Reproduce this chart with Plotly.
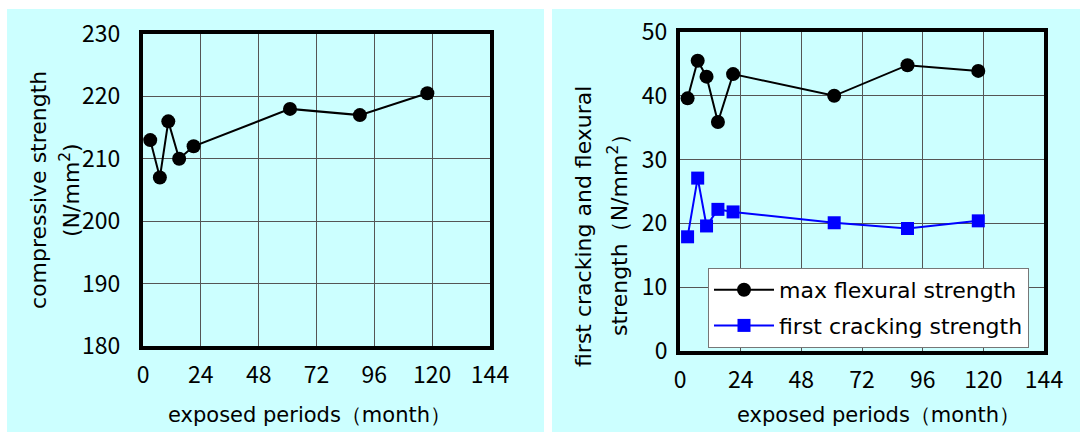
import plotly.graph_objects as go

months = [3, 7, 10.5, 15, 21, 61, 90, 118]
compressive = [213, 207, 216, 210, 212, 218, 217, 220.5]
max_flexural = [39.6, 45.5, 43.0, 35.9, 43.4, 40.0, 44.8, 43.9]
first_cracking = [17.9, 27.1, 19.6, 22.2, 21.8, 20.1, 19.2, 20.4]
x_ticks = [0, 24, 48, 72, 96, 120, 144]

TICK_FONT = "Noto Sans CJK JP"
TEXT_FONT = "DejaVu Sans"
W, H = 1080, 433

def px(x):
    return x / W

def py(y):
    return 1 - y / H

fig = go.Figure()

fig.add_trace(go.Scatter(x=months, y=compressive, mode="lines+markers",
                         line=dict(color="black", width=2),
                         marker=dict(symbol="circle", size=14, color="black"),
                         showlegend=False, xaxis="x", yaxis="y"))
fig.add_trace(go.Scatter(x=months, y=max_flexural, mode="lines+markers",
                         name="max flexural strength", legendgroup="a",
                         line=dict(color="black", width=2),
                         marker=dict(symbol="circle", size=14, color="black"),
                         xaxis="x2", yaxis="y2"))
fig.add_trace(go.Scatter(x=months, y=first_cracking, mode="lines+markers",
                         name="first cracking strength", legendgroup="b",
                         line=dict(color="#0000FF", width=2),
                         marker=dict(symbol="square", size=13, color="#0000FF"),
                         xaxis="x2", yaxis="y2"))

common_x = dict(range=[0, 144], tickvals=x_ticks, showgrid=True, gridcolor="#555555",
                gridwidth=1, showline=True, linecolor="black", linewidth=4, mirror=True,
                zeroline=False, ticks="", ticklabelstandoff=5, automargin=False,
                tickfont=dict(family=TICK_FONT, size=23, color="black"))
common_y = dict(showgrid=True, gridcolor="#555555", gridwidth=1, showline=True,
                linecolor="black", linewidth=4, mirror=True, zeroline=False, ticks="",
                automargin=False, tickfont=dict(family=TICK_FONT, size=23, color="black"))

def note(text, x, y, angle=0, size=22):
    return dict(text=text, x=px(x), y=py(y), xref="paper", yref="paper",
                showarrow=False, textangle=angle,
                font=dict(family=TEXT_FONT, size=size, color="black"),
                xanchor="center", yanchor="middle")

fig.update_layout(
    width=W, height=H,
    margin=dict(l=0, r=0, t=0, b=0),
    paper_bgcolor="white",
    plot_bgcolor="#FFFFCC",
    xaxis=dict(domain=[px(143), px(490)], anchor="y", **common_x),
    yaxis=dict(domain=[py(346), py(34)], anchor="x", range=[180, 230], dtick=10,
               ticklabelstandoff=14, **common_y),
    xaxis2=dict(domain=[px(680), px(1044)], anchor="y2", **common_x),
    yaxis2=dict(domain=[py(351), py(32)], anchor="x2", range=[0, 50], dtick=10,
                ticklabelstandoff=4, **common_y),
    legend=dict(x=px(708), y=py(268), xanchor="left", yanchor="top",
                bgcolor="white", bordercolor="#777777", borderwidth=1,
                font=dict(family=TEXT_FONT, size=22, color="black"),
                itemwidth=60, tracegroupgap=4),
    annotations=[
        note("exposed periods（month）", 309, 415, size=21),
        note("exposed periods（month）", 878, 415, size=21),
        note("compressive strength", 38, 190, -90),
        note("(N/mm<sup>2</sup>)", 70, 190, -90),
        note("first cracking and flexural", 583, 227, -90),
        note("strength（N/mm<sup>2</sup>）", 618, 230, -90),
    ],
    shapes=[
        dict(type="rect", xref="paper", yref="paper", x0=px(7), x1=px(544),
             y0=py(432), y1=py(9), fillcolor="#CCFFFF", line=dict(width=0), layer="below"),
        dict(type="rect", xref="paper", yref="paper", x0=px(552), x1=1,
             y0=py(432), y1=py(9), fillcolor="#CCFFFF", line=dict(width=0), layer="below"),
    ],
)

fig.write_html("out.html")
